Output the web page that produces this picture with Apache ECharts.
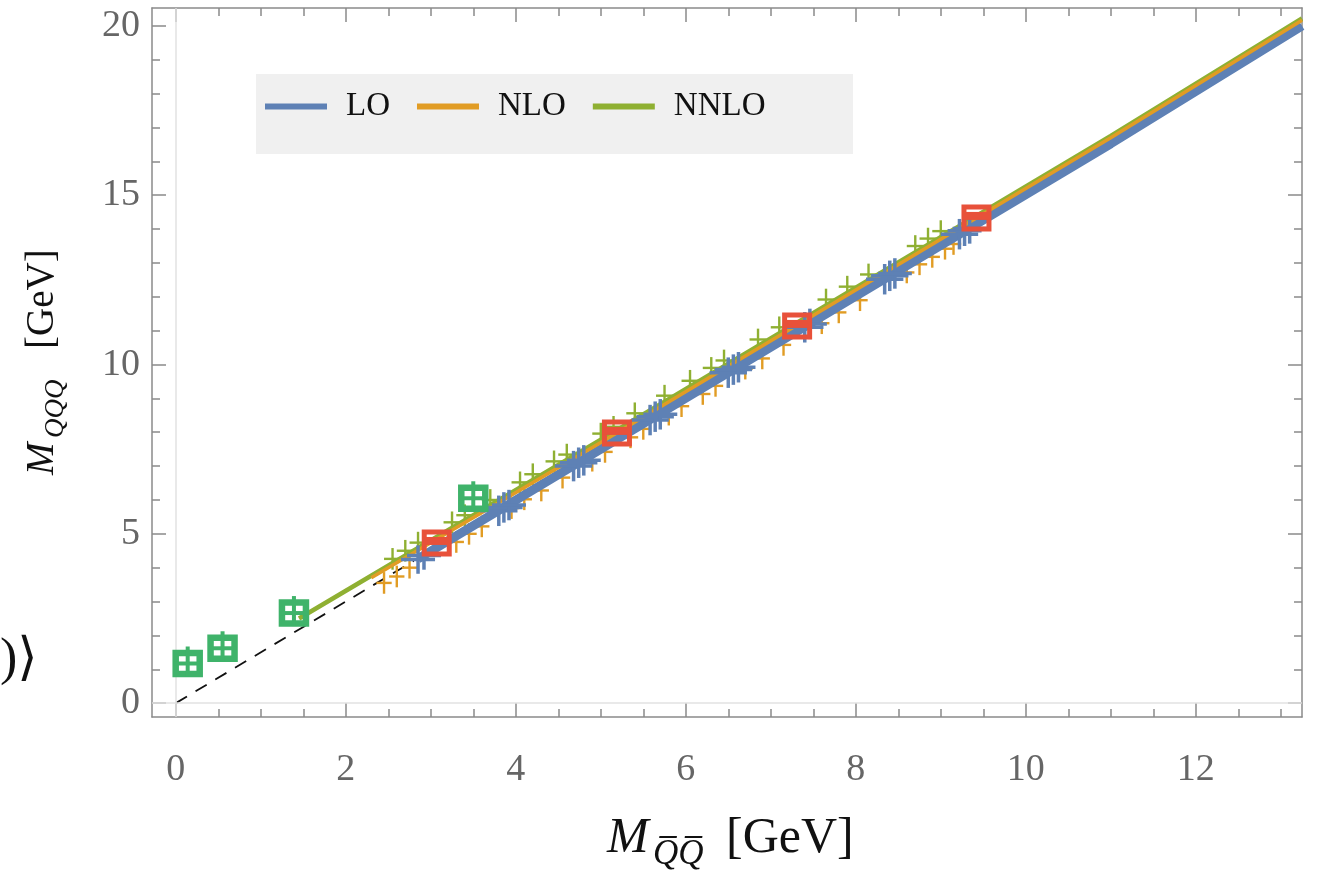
<!DOCTYPE html>
<html>
<head>
<meta charset="utf-8">
<script src="https://cdn.jsdelivr.net/npm/echarts@6/dist/echarts.min.js"></script>
<style>
html,body{margin:0;padding:0;background:#fff;}
#chart{width:1325px;height:874px;}
</style>
</head>
<body>
<div id="chart"></div>
<script>
// ---- data ----
const xMajorTicks = [0, 2, 4, 6, 8, 10, 12];
const xMinorTicks = [0,0.5,1,1.5,2,2.5,3,3.5,4,4.5,5,5.5,6,6.5,7,7.5,8,8.5,9,9.5,10,10.5,11,11.5,12,12.5,13];
const yMajorTicks = [0, 5, 10, 15, 20];
const yMinorTicks = [0,1,2,3,4,5,6,7,8,9,10,11,12,13,14,15,16,17,18,19,20];

const seriesNames = ['LO', 'NLO', 'NNLO'];
// fitted curves [x, y]
const loLine   = [[2.85, 4.26], [5.0, 7.5], [8.0, 12.02], [11.0, 16.52], [13.25, 20.0]];
const nloLine  = [[2.3, 3.7], [5.0, 7.7], [8.0, 12.2], [11.0, 16.7], [13.25, 20.17]];
const nnloLine = [[1.45, 2.5], [5.0, 7.78], [8.0, 12.27], [11.0, 16.75], [13.25, 20.22]];

// lattice points with errors: [x, y, xErr, yErr]
const loPoints = [
  [2.85,4.24,0.2,0.42],[2.92,4.36,0.2,0.42],
  [3.80,5.68,0.22,0.45],[3.86,5.78,0.22,0.45],[3.92,5.85,0.2,0.45],
  [4.68,7.0,0.22,0.45],[4.74,7.1,0.22,0.45],[4.80,7.17,0.2,0.45],
  [5.58,8.36,0.22,0.45],[5.64,8.46,0.22,0.45],[5.70,8.53,0.2,0.45],
  [6.50,9.76,0.22,0.45],[6.56,9.85,0.22,0.45],[6.62,9.92,0.2,0.45],
  [7.40,11.1,0.22,0.45],[7.46,11.2,0.2,0.45],
  [8.34,12.52,0.22,0.45],[8.40,12.62,0.22,0.45],[8.46,12.69,0.2,0.45],
  [9.22,13.85,0.22,0.45],[9.28,13.95,0.2,0.45],[9.34,14.02,0.2,0.45]
];
const nloPoints = [
  [2.45,3.55,0.09,0.32],[2.6,3.74,0.09,0.32],[2.75,4.0,0.09,0.32],
  [3.3,4.76,0.09,0.32],[3.45,5.0,0.09,0.32],[3.6,5.22,0.09,0.32],
  [3.95,5.76,0.09,0.32],[4.1,6.02,0.09,0.32],[4.3,6.28,0.09,0.32],[4.55,6.66,0.09,0.32],
  [4.9,7.16,0.09,0.32],[5.05,7.42,0.09,0.32],[5.35,7.85,0.09,0.32],[5.5,8.1,0.09,0.32],
  [5.8,8.52,0.09,0.32],[5.95,8.77,0.09,0.32],[6.2,9.13,0.09,0.32],[6.35,9.37,0.09,0.32],
  [6.7,9.88,0.09,0.32],[6.9,10.18,0.09,0.32],[7.15,10.58,0.09,0.32],
  [7.6,11.22,0.09,0.32],[7.8,11.54,0.09,0.32],[8.05,11.9,0.09,0.32],
  [8.6,12.72,0.09,0.32],[8.75,12.96,0.09,0.32],[8.9,13.18,0.09,0.32],[9.05,13.42,0.09,0.32],[9.15,13.56,0.09,0.32]
];
const nnloPoints = [
  [2.55,4.26,0.1,0.32],[2.7,4.5,0.1,0.32],[2.85,4.74,0.1,0.32],
  [3.25,5.34,0.1,0.32],[3.4,5.55,0.1,0.32],[3.7,6.0,0.1,0.32],
  [4.05,6.52,0.1,0.32],[4.2,6.76,0.1,0.32],[4.45,7.14,0.1,0.32],[4.6,7.34,0.1,0.32],
  [5.0,7.96,0.1,0.32],[5.15,8.16,0.1,0.32],[5.4,8.56,0.1,0.32],[5.75,9.08,0.1,0.32],
  [6.05,9.52,0.1,0.32],[6.3,9.9,0.1,0.32],[6.45,10.12,0.1,0.32],
  [6.85,10.74,0.1,0.32],[7.1,11.1,0.1,0.32],[7.65,11.92,0.1,0.32],
  [7.9,12.3,0.1,0.32],[8.15,12.66,0.1,0.32],[8.7,13.5,0.1,0.32],[8.85,13.72,0.1,0.32],[9.0,13.94,0.1,0.32]
];
// experimental / reference markers [x, y]
const greenMarks = [[0.14, 1.17], [0.55, 1.62], [1.39, 2.66], [3.5, 6.05]];
const redMarks   = [[3.07, 4.73], [5.19, 7.98], [7.31, 11.14], [9.42, 14.33]];
// reference diagonal (dashed)
const diagLine = [[0, 0], [2.8, 4.2]];

// ---- styles ----
const C_LO = '#5E81B5', C_NLO = '#E19C24', C_NNLO = '#8FB032';
const C_GREEN = '#3FB36A', C_RED = '#E8513A';
const AX = '#8a8a8a';
const serif = "'Liberation Serif','DejaVu Serif',serif";

function errRender(color, lw) {
  return function (params, api) {
    const x = api.value(0), y = api.value(1), ex = api.value(2), ey = api.value(3);
    const a = api.coord([x, y - ey]), b = api.coord([x, y + ey]);
    const c = api.coord([x - ex, y]), d = api.coord([x + ex, y]);
    return { type: 'group', children: [
      { type: 'line', shape: { x1: a[0], y1: a[1], x2: b[0], y2: b[1] }, style: { stroke: color, lineWidth: lw } },
      { type: 'line', shape: { x1: c[0], y1: c[1], x2: d[0], y2: d[1] }, style: { stroke: color, lineWidth: lw } }
    ]};
  };
}
function greenRender(params, api) {
  const p = api.coord([api.value(0), api.value(1)]);
  const cx = p[0], cy = p[1];
  return { type: 'group', children: [
    { type: 'rect', shape: { x: cx - 12, y: cy - 10.5, width: 24, height: 21 }, style: { fill: 'none', stroke: C_GREEN, lineWidth: 6.5 } },
    { type: 'line', shape: { x1: cx, y1: cy - 17, x2: cx, y2: cy + 13 }, style: { stroke: C_GREEN, lineWidth: 4 } },
    { type: 'line', shape: { x1: cx - 14, y1: cy, x2: cx + 14, y2: cy }, style: { stroke: C_GREEN, lineWidth: 4 } }
  ]};
}
function redRender(params, api) {
  const p = api.coord([api.value(0), api.value(1)]);
  const cx = p[0], cy = p[1];
  return { type: 'group', children: [
    { type: 'rect', shape: { x: cx - 12.5, y: cy - 11, width: 25, height: 22 }, style: { fill: 'none', stroke: C_RED, lineWidth: 5 } },
    { type: 'line', shape: { x1: cx - 14, y1: cy - 2, x2: cx + 14, y2: cy - 2 }, style: { stroke: C_RED, lineWidth: 8 } }
  ]};
}

const X_MIN = -0.28, X_MAX = 13.25, Y_MIN = -0.41, Y_MAX = 20.53;
const tickLbl = { fontFamily: serif, fontSize: 38, color: '#666' };

function xAx(pos, ticks, len, line, labels) {
  return {
    type: 'value', min: X_MIN, max: X_MAX, position: pos,
    axisLine: { show: line, onZero: false, lineStyle: { color: AX, width: 1.5 } },
    axisTick: { show: true, inside: true, length: len, customValues: ticks, lineStyle: { color: AX, width: 1.5 } },
    axisLabel: labels ? Object.assign({ show: true, customValues: ticks, margin: 34 }, tickLbl) : { show: false },
    splitLine: { show: false }
  };
}
function yAx(pos, ticks, len, line, labels) {
  return {
    type: 'value', min: Y_MIN, max: Y_MAX, position: pos,
    axisLine: { show: line, onZero: false, lineStyle: { color: AX, width: 1.5 } },
    axisTick: { show: true, inside: true, length: len, customValues: ticks, lineStyle: { color: AX, width: 1.5 } },
    axisLabel: labels ? Object.assign({ show: true, customValues: ticks, margin: 12 }, tickLbl) : { show: false },
    splitLine: { show: false }
  };
}

// axis titles: main symbol, subscript, unit
function tx(text, x, y, fs, italic) {
  return { type: 'text', x: x, y: y, silent: true,
    style: { text: text, fill: '#111', align: 'left', verticalAlign: 'middle',
      font: (italic ? 'italic ' : '') + fs + "px 'Liberation Serif','DejaVu Serif',serif" } };
}
const xTitle = { type: 'group', x: 607, y: 855, children: [
  tx('M', 0, -16, 50, true), tx('Q\u0305Q\u0305', 46, 0, 35, true), tx('[GeV]', 119, -16, 50, false) ] };
const yTitle = { type: 'group', x: 56, y: 475, rotation: Math.PI / 2, children: [
  tx('M', 0, -13, 39, true), tx('QQQ', 37, 0, 27, true), tx('[GeV]', 126, -13, 39, false) ] };

const option = {
  animation: false,
  backgroundColor: '#fff',
  grid: { left: 152, right: 23, top: 8, bottom: 157, containLabel: false, outerBoundsMode: 'none' },
  xAxis: [xAx('bottom', xMajorTicks, 14, true, true), xAx('bottom', xMinorTicks, 8, false, false), xAx('top', xMajorTicks, 14, true, false), xAx('top', xMinorTicks, 8, false, false)],
  yAxis: [yAx('left', yMajorTicks, 14, true, true), yAx('left', yMinorTicks, 8, false, false), yAx('right', yMajorTicks, 14, true, false), yAx('right', yMinorTicks, 8, false, false)],
  legend: {
    data: seriesNames, left: 265, top: 90, icon: 'rect', itemWidth: 62, itemHeight: 6, itemGap: 27, padding: 0,
    textStyle: { fontFamily: serif, fontSize: 33, color: '#111', padding: [0, 0, 0, 14] },
    selectedMode: false
  },
  graphic: [
    { type: 'rect', left: 256, top: 74, z: -1, shape: { width: 597, height: 80 }, style: { fill: '#f0f0f0' }, silent: true },
    { type: 'text', left: 0, top: 634, style: { text: ')\u27E9', font: "52px 'Liberation Serif','DejaVu Serif',serif", fill: '#111' } },
    xTitle, yTitle
  ],
  series: [
    { type: 'line', name: 'diag', data: diagLine, showSymbol: false, z: 1,
      lineStyle: { color: '#111', width: 1.8, type: [13, 10] },
      markLine: { silent: true, symbol: 'none', label: { show: false },
        lineStyle: { color: '#e2e2e2', width: 1.5, type: 'solid' },
        data: [{ xAxis: 0 }, { yAxis: 0 }] } },
    { type: 'custom', name: 'nloPts', data: nloPoints, renderItem: errRender(C_NLO, 2.4), z: 2, encode: { x: 0, y: 1 } },
    { type: 'custom', name: 'nnloPts', data: nnloPoints, renderItem: errRender(C_NNLO, 2.4), z: 2, encode: { x: 0, y: 1 } },
    { type: 'line', name: 'NNLO', data: nnloLine, showSymbol: false, z: 3, color: C_NNLO, lineStyle: { color: C_NNLO, width: 4.5 } },
    { type: 'line', name: 'LO', data: loLine, showSymbol: false, z: 3, color: C_LO, lineStyle: { color: C_LO, width: 9 } },
    { type: 'line', name: 'NLO', data: nloLine, showSymbol: false, z: 3, color: C_NLO, lineStyle: { color: C_NLO, width: 3.5 } },
    { type: 'custom', name: 'loPts', data: loPoints, renderItem: errRender(C_LO, 3.5), z: 4, encode: { x: 0, y: 1 } },
    { type: 'custom', name: 'green', data: greenMarks, renderItem: greenRender, z: 5, encode: { x: 0, y: 1 } },
    { type: 'custom', name: 'red', data: redMarks, renderItem: redRender, z: 5, encode: { x: 0, y: 1 } }
  ]
};
const chart = echarts.init(document.getElementById('chart'), null, { renderer: 'canvas' });
chart.setOption(option);
</script>
</body>
</html>
